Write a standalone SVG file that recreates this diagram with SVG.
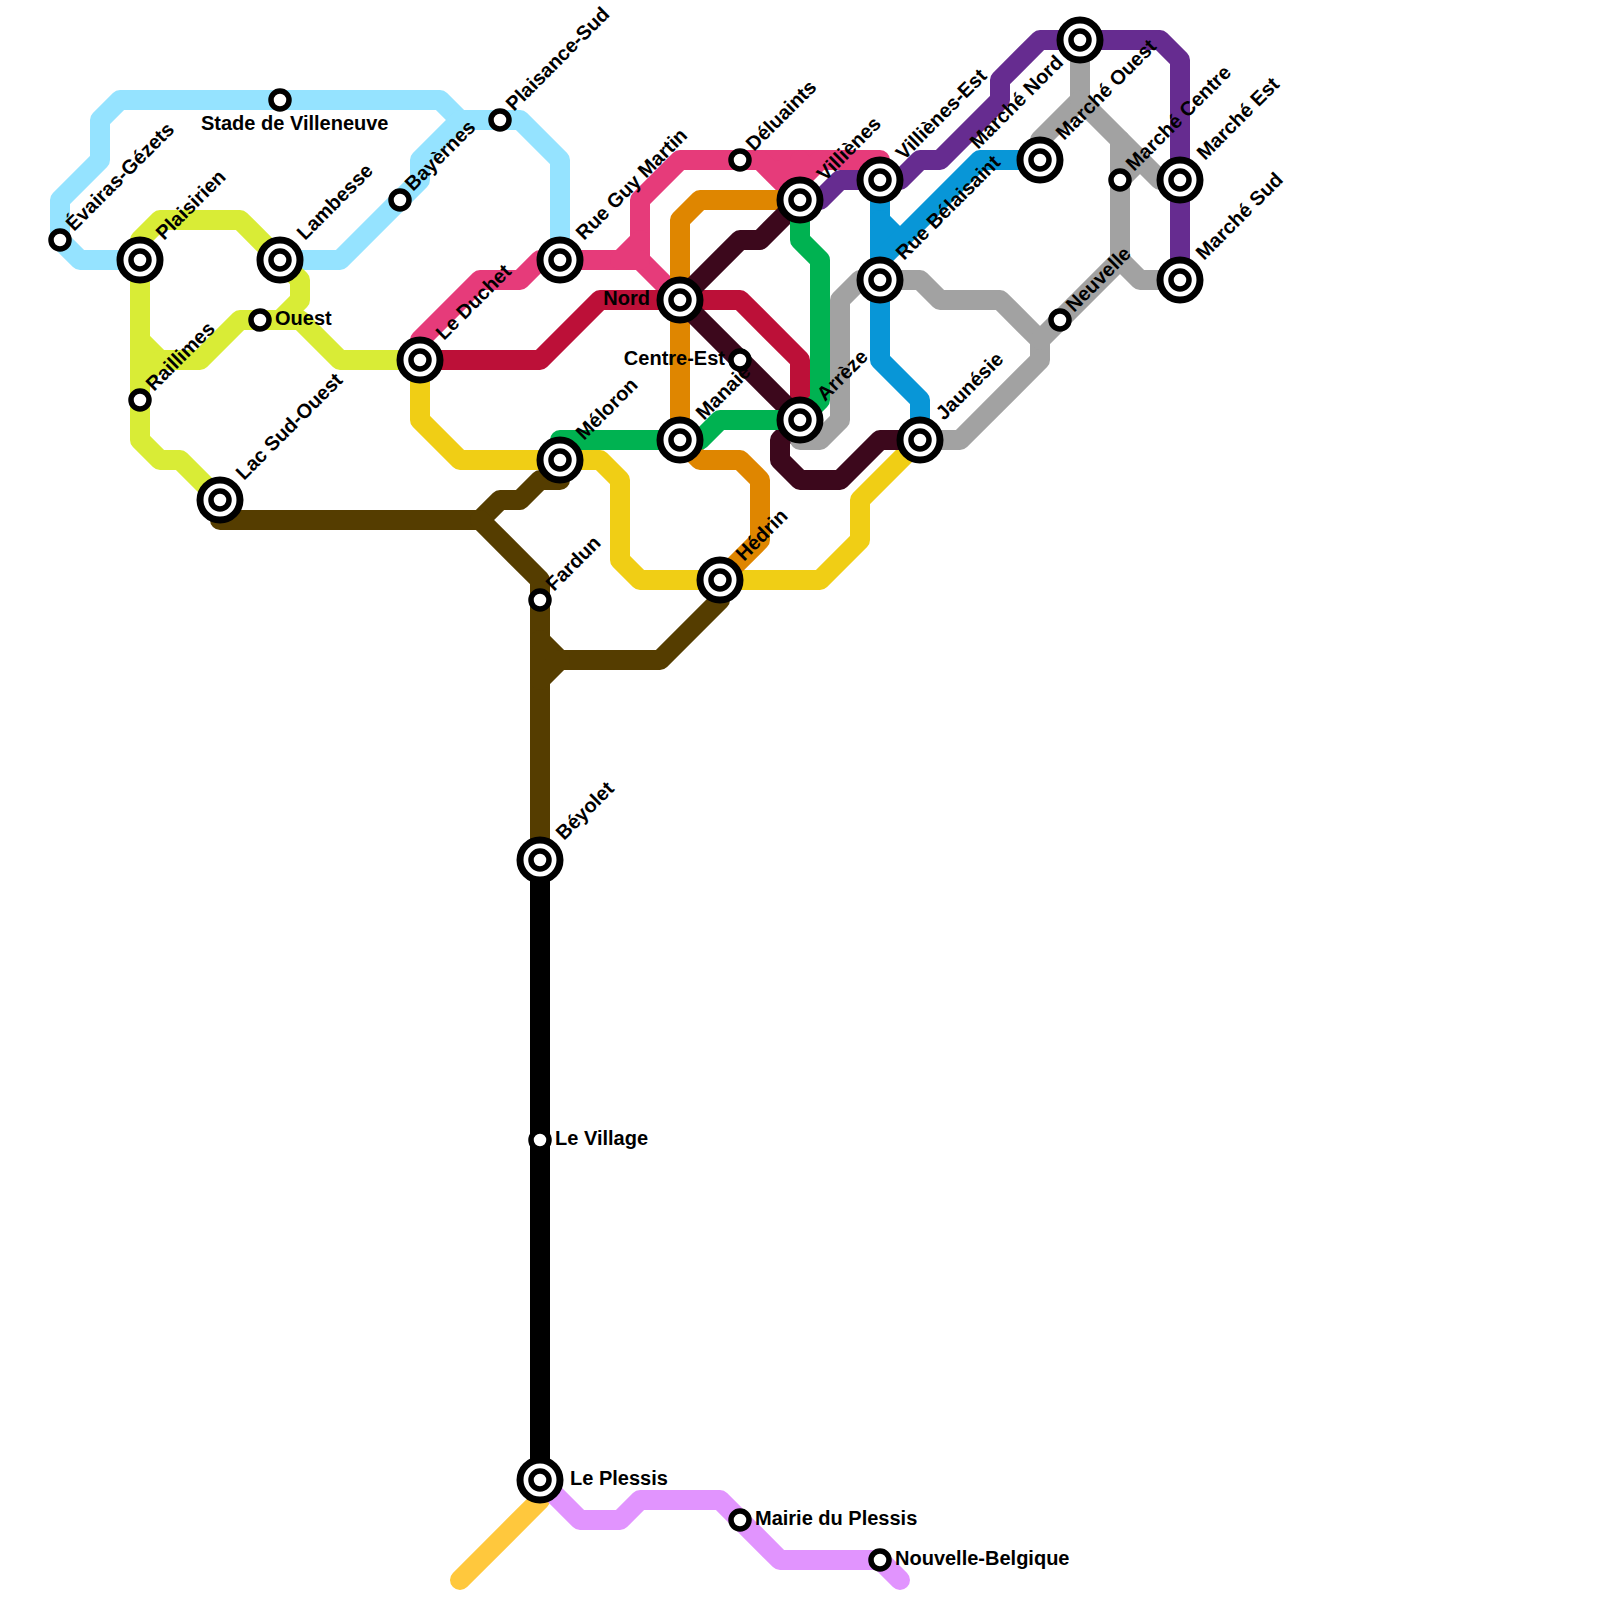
<svg xmlns="http://www.w3.org/2000/svg" width="1600" height="1600" viewBox="0 0 1600 1600">
<style>
.l{fill:none;stroke-width:20;stroke-linecap:round;stroke-linejoin:round}
.o{fill:#fff;stroke:#000;stroke-width:7}
.i{fill:#fff;stroke:#000;stroke-width:5.5}
.t{font-family:"Liberation Sans",Arial,sans-serif;font-weight:700;font-size:20px;fill:#000}
.e{text-anchor:end}
</style>
<defs>
<g id="ic"><circle class="o" r="20"/><circle class="i" r="9"/></g>
<circle id="sm" class="i" r="9"/>
</defs>
<rect width="1600" height="1600" fill="#fff"/>
<g id="connectors">
<g stroke="#95e3ff" class="l"><path class="l" d="M140 260H80L60 240V200L100 160V120L120 100H440L460 120"/><path class="l" d="M280 260H340L420 180V160L460 120H520L560 160V260"/></g>
<g stroke="#d9ec36" class="l"><path class="l" d="M140 260V240L160 220H240L300 280V300L280 320H240L200 360H160L140 340V260V440L160 460H180L220 500"/><path class="l" d="M140 380L160 360"/><path class="l" d="M420 360H340L300 320H280"/></g>
<g stroke="#e63b7a" class="l"><path class="l" d="M420 360V340L480 280H520L540 260H620L640 240V200L680 160H880"/><path class="l" d="M640 240V260L680 300"/><path class="l" d="M620 260H640"/><path class="l" d="M760 160L800 200V160M800 180L820 160M780 170H800"/></g>
<path stroke="#bc1038" class="l" d="M420 360H540L600 300H740L800 360V420"/>
<path stroke="#f0ce15" class="l" d="M420 360V420L460 460H600L620 480V560L640 580H820L860 540V500L920 440"/>
<path stroke="#df8600" class="l" d="M800 200H700L680 220V440L700 460H740L760 480V540L720 580"/>
<g stroke="#3c081c" class="l"><path class="l" d="M680 300L740 240H760L800 200"/><path class="l" d="M680 300L800 420L780 440V460L800 480H840L880 440H920"/></g>
<g stroke="#a2a2a2" class="l"><path class="l" d="M800 420V440H820L840 420V300L860 280H920L940 300H1000L1040 340V360L960 440H920"/><path class="l" d="M1040 340L1120 260V140"/><path class="l" d="M1180 280H1140L1120 260"/><path class="l" d="M1080 40V100L1040 140V160"/><path class="l" d="M1080 100L1160 180H1180"/><path class="l" d="M1120 180L1140 160"/></g>
<path stroke="#00b251" class="l" d="M560 460V440H700L720 420H800L820 400V260L800 240V200"/>
<path stroke="#662c90" class="l" d="M800 200H820L840 180H900L920 160H940L1000 100V80L1040 40H1160L1180 60V280"/>
<g stroke="#0896d7" class="l"><path class="l" d="M880 180V360L920 400V440"/><path class="l" d="M880 220L900 240"/><path class="l" d="M880 260L980 160H1040"/></g>
<g stroke="#553d00" class="l"><path class="l" d="M220 500V520H480L500 500H520L540 480H560V460"/><path class="l" d="M480 520L540 580V860"/><path class="l" d="M540 640L560 660H660L720 600V580"/><path class="l" d="M540 680L560 660"/></g>
<path stroke="#000" class="l" d="M540 860V1480"/>
<path stroke="#ffc83d" class="l" d="M540 1480V1500L460 1580"/>
<path stroke="#e194fe" class="l" d="M540 1480L580 1520H620L640 1500H720L780 1560H880L900 1580"/>
</g>
<g id="s-evairas"><use href="#sm" x="60" y="240"/><text class="t" transform="translate(74 232) rotate(-45)">Évairas-Gézets</text></g>
<g id="s-plaisirien"><use href="#ic" x="140" y="260"/><text class="t" transform="translate(164 241) rotate(-45)">Plaisirien</text></g>
<g id="s-stade"><use href="#sm" x="280" y="100"/><text class="t" x="201" y="130">Stade de Villeneuve</text></g>
<g id="s-lambesse"><use href="#ic" x="280" y="260"/><text class="t" transform="translate(305 241) rotate(-45)">Lambesse</text></g>
<g id="s-bayernes"><use href="#sm" x="400" y="200"/><text class="t" transform="translate(413 192) rotate(-45)">Bayèrnes</text></g>
<g id="s-plaisance"><use href="#sm" x="500" y="120"/><text class="t" transform="translate(514 112) rotate(-45)">Plaisance-Sud</text></g>
<g id="s-ouest"><use href="#sm" x="260" y="320"/><text class="t" x="275" y="325">Ouest</text></g>
<g id="s-raillimes"><use href="#sm" x="140" y="400"/><text class="t" transform="translate(154 392) rotate(-45)">Raillimes</text></g>
<g id="s-lac"><use href="#ic" x="220" y="500"/><text class="t" transform="translate(244 481) rotate(-45)">Lac Sud-Ouest</text></g>
<g id="s-duchet"><use href="#ic" x="420" y="360"/><text class="t" transform="translate(444 341) rotate(-45)">Le Duchet</text></g>
<g id="s-rueguy"><use href="#ic" x="560" y="260"/><text class="t" transform="translate(584 241) rotate(-45)">Rue Guy Martin</text></g>
<g id="s-meloron"><use href="#ic" x="560" y="460"/><text class="t" transform="translate(584 441) rotate(-45)">Méloron</text></g>
<g id="s-nord"><use href="#ic" x="680" y="300"/><text class="t e" x="650" y="305">Nord</text></g>
<g id="s-centre"><use href="#sm" x="740" y="360"/><text class="t e" x="725" y="365">Centre-Est</text></g>
<g id="s-manaie"><use href="#ic" x="680" y="440"/><text class="t" transform="translate(704 421) rotate(-45)">Manaie</text></g>
<g id="s-arreze"><use href="#ic" x="800" y="420"/><text class="t" transform="translate(825 402) rotate(-45)">Arrèze</text></g>
<g id="s-deluaints"><use href="#sm" x="740" y="160"/><text class="t" transform="translate(754 152) rotate(-45)">Déluaints</text></g>
<g id="s-villienes"><use href="#ic" x="800" y="200"/><text class="t" transform="translate(825 182) rotate(-45)">Villiènes</text></g>
<g id="s-villienes-est"><use href="#ic" x="880" y="180"/><text class="t" transform="translate(904 161) rotate(-45)">Villiènes-Est</text></g>
<g id="s-rue-bel"><use href="#ic" x="880" y="280"/><text class="t" transform="translate(904 261) rotate(-45)">Rue Bélaisaint</text></g>
<g id="s-marche-nord"><use href="#ic" x="1080" y="40"/><text class="t" transform="translate(978 150) rotate(-45)">Marché Nord</text></g>
<g id="s-marche-ouest"><use href="#ic" x="1040" y="160"/><text class="t" transform="translate(1064 141) rotate(-45)">Marché Ouest</text></g>
<g id="s-marche-centre"><use href="#sm" x="1120" y="180"/><text class="t" transform="translate(1134 172) rotate(-45)">Marché Centre</text></g>
<g id="s-marche-est"><use href="#ic" x="1180" y="180"/><text class="t" transform="translate(1205 161) rotate(-45)">Marché Est</text></g>
<g id="s-marche-sud"><use href="#ic" x="1180" y="280"/><text class="t" transform="translate(1204 261) rotate(-45)">Marché Sud</text></g>
<g id="s-neuvelle"><use href="#sm" x="1060" y="320"/><text class="t" transform="translate(1074 313) rotate(-45)">Neuvelle</text></g>
<g id="s-jaunesie"><use href="#ic" x="920" y="440"/><text class="t" transform="translate(944 421) rotate(-45)">Jaunésie</text></g>
<g id="s-hedrin"><use href="#ic" x="720" y="580"/><text class="t" transform="translate(744 562) rotate(-45)">Hédrin</text></g>
<g id="s-fardun"><use href="#sm" x="540" y="600"/><text class="t" transform="translate(554 592) rotate(-45)">Fardun</text></g>
<g id="s-beyolet"><use href="#ic" x="540" y="860"/><text class="t" transform="translate(564 841) rotate(-45)">Béyolet</text></g>
<g id="s-village"><use href="#sm" x="540" y="1140"/><text class="t" x="555" y="1145">Le Village</text></g>
<g id="s-plessis"><use href="#ic" x="540" y="1480"/><text class="t" x="570" y="1485">Le Plessis</text></g>
<g id="s-mairie"><use href="#sm" x="740" y="1520"/><text class="t" x="755" y="1525">Mairie du Plessis</text></g>
<g id="s-belgique"><use href="#sm" x="880" y="1560"/><text class="t" x="895" y="1565">Nouvelle-Belgique</text></g>
</svg>
